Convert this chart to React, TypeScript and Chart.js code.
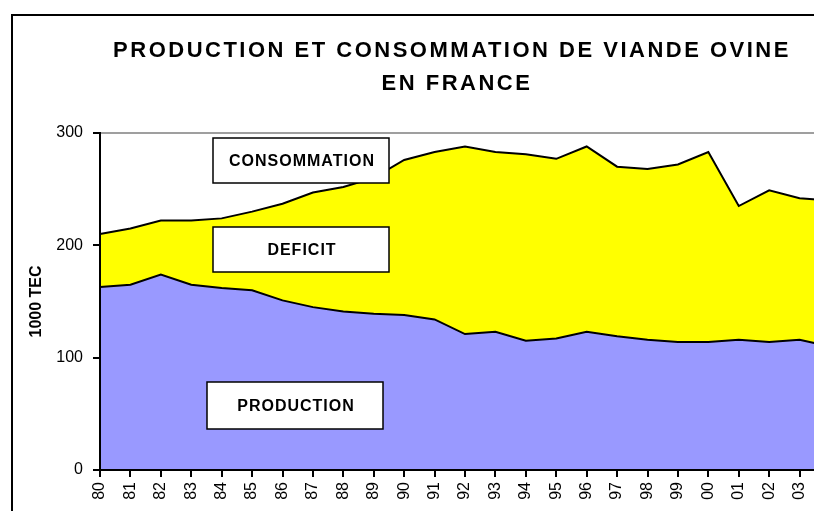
import React, { useEffect, useRef } from "react";
import { Chart, registerables } from "chart.js";

Chart.register(...registerables);

const years = [
  "80", "81", "82", "83", "84", "85", "86", "87", "88", "89",
  "90", "91", "92", "93", "94", "95", "96", "97", "98", "99",
  "00", "01", "02", "03", "04",
];
const production = [
  163, 165, 174, 165, 162, 160, 151, 145, 141, 139,
  138, 134, 121, 123, 115, 117, 123, 119, 116, 114,
  114, 116, 114, 116, 110,
];
const consommation = [
  210, 215, 222, 222, 224, 230, 237, 247, 252, 260,
  276, 283, 288, 283, 281, 277, 288, 270, 268, 272,
  283, 235, 249, 242, 240,
];
const yTicks = [0, 100, 200, 300];
const titleLines = ["PRODUCTION ET CONSOMMATION DE VIANDE OVINE", "EN FRANCE"];
const yAxisTitle = "1000 TEC";
const boxLabels = ["CONSOMMATION", "DEFICIT", "PRODUCTION"];

const FONT = "'Liberation Sans', Arial, Helvetica, sans-serif";

export default function App() {
  const ref = useRef<HTMLCanvasElement | null>(null);

  useEffect(() => {
    const canvas = ref.current;
    if (!canvas) return;

    const boxes = [
      { text: boxLabels[0], x: 213, y: 138, w: 176, h: 45 },
      { text: boxLabels[1], x: 213, y: 227, w: 176, h: 45 },
      { text: boxLabels[2], x: 207, y: 382, w: 176, h: 47 },
    ];

    const decor = {
      id: "decor",
      afterDatasetsDraw(chart: any) {
        const { ctx, chartArea: a } = chart;
        ctx.save();
        ctx.strokeStyle = "#808080";
        ctx.lineWidth = 1.5;
        ctx.strokeRect(a.left, a.top, a.right - a.left, a.bottom - a.top);
        ctx.restore();
      },
      afterDraw(chart: any) {
        const ctx = chart.ctx as CanvasRenderingContext2D;
        ctx.save();
        ctx.strokeStyle = "#000";
        ctx.lineWidth = 2;
        ctx.strokeRect(12, 15, 878, 520);

        ctx.fillStyle = "#000";
        ctx.font = `bold 22px ${FONT}`;
        (ctx as any).letterSpacing = "2.5px";
        ctx.textAlign = "center";
        ctx.textBaseline = "alphabetic";
        ctx.fillText(titleLines[0], 452, 57);
        ctx.fillText(titleLines[1], 457, 90);

        ctx.font = `bold 16px ${FONT}`;
        (ctx as any).letterSpacing = "1px";
        ctx.textBaseline = "middle";
        for (const b of boxes) {
          ctx.fillStyle = "#fff";
          ctx.fillRect(b.x, b.y, b.w, b.h);
          ctx.strokeStyle = "#000";
          ctx.lineWidth = 1.5;
          ctx.strokeRect(b.x, b.y, b.w, b.h);
          ctx.fillStyle = "#000";
          ctx.fillText(b.text, b.x + b.w / 2 + 1, b.y + b.h / 2 + 1);
        }
        ctx.restore();
      },
    };

    const chart = new Chart(canvas, {
      type: "line",
      data: {
        labels: years,
        datasets: [
          {
            label: "PRODUCTION",
            data: production,
            borderColor: "#000",
            borderWidth: 2,
            backgroundColor: "#9999FF",
            fill: "origin",
            pointRadius: 0,
            tension: 0,
          },
          {
            label: "CONSOMMATION",
            data: consommation,
            borderColor: "#000",
            borderWidth: 2,
            backgroundColor: "#FFFF00",
            fill: "-1",
            pointRadius: 0,
            tension: 0,
          },
        ],
      },
      options: {
        responsive: false,
        animation: false,
        devicePixelRatio: 1,
        layout: { padding: { left: 0, top: 133, right: 70, bottom: 0 } },
        plugins: {
          legend: { display: false },
          title: { display: false },
          tooltip: { enabled: false },
        },
        scales: {
          x: {
            type: "category",
            offset: false,
            afterFit: (s: any) => {
              s.height = 70;
            },
            grid: {
              display: true,
              drawOnChartArea: false,
              drawTicks: true,
              tickLength: 7,
              color: "#000",
              lineWidth: 2,
              offset: false,
            },
            border: { display: true, color: "#000", width: 2, z: 1 },
            ticks: {
              autoSkip: false,
              minRotation: 90,
              maxRotation: 90,
              padding: 5,
              color: "#000",
              font: { family: FONT, size: 16 },
            },
          },
          y: {
            min: 0,
            max: 300,
            afterFit: (s: any) => {
              s.width = 100;
            },
            afterBuildTicks: (s: any) => {
              s.ticks = yTicks.map((v) => ({ value: v }));
            },
            grid: {
              display: true,
              drawOnChartArea: false,
              drawTicks: true,
              tickLength: 7,
              color: "#000",
              lineWidth: 2,
            },
            border: { display: true, color: "#000", width: 2, z: 1 },
            ticks: {
              padding: 10,
              color: "#000",
              font: { family: FONT, size: 16 },
            },
            title: {
              display: true,
              text: yAxisTitle,
              color: "#000",
              font: { family: FONT, size: 16, weight: "bold" },
              padding: { top: 27, bottom: 0 },
            },
          },
        },
      },
      plugins: [decor],
    });

    return () => chart.destroy();
  }, []);

  return (
    <div
      style={{
        position: "fixed",
        left: 0,
        top: 0,
        width: 814,
        height: 511,
        overflow: "hidden",
        background: "#fff",
      }}
    >
      <canvas ref={ref} width={900} height={540} style={{ display: "block" }} />
    </div>
  );
}
